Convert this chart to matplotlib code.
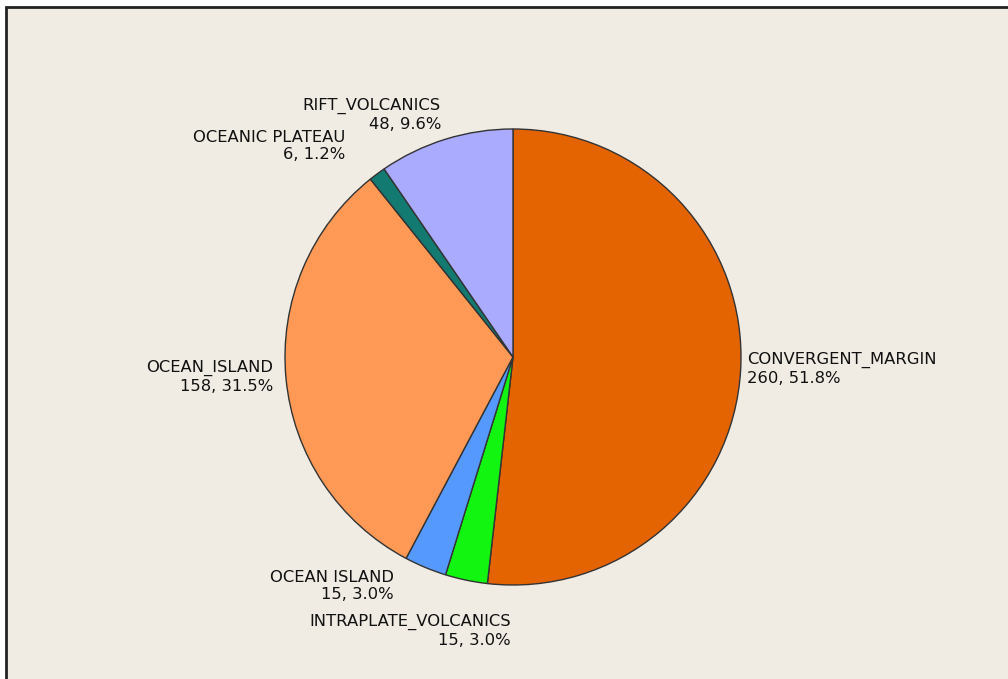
import matplotlib.pyplot as plt
from matplotlib.patches import Rectangle

# Data
categories = ['CONVERGENT_MARGIN', 'INTRAPLATE_VOLCANICS', 'OCEAN ISLAND',
              'OCEAN_ISLAND', 'OCEANIC PLATEAU', 'RIFT_VOLCANICS']
counts = [260, 15, 15, 158, 6, 48]
colors = ['#E36400', '#11F511', '#5599FF', '#FF9955', '#137A72', '#AAAAFF']

# Label layout (pixel coords of the anchor point, alignment)
label_pos = [(747, 369, 'left'), (511, 631, 'right'), (394, 586, 'right'),
             (273, 377, 'right'), (345, 146, 'right'), (441, 115, 'right')]

W, H = 1008, 679
fig = plt.figure(figsize=(W / 100, H / 100), dpi=100, facecolor='white')
ax = fig.add_axes([0, 0, 1, 1])
ax.set_xlim(0, W)
ax.set_ylim(0, H)
ax.set_aspect('equal')
ax.axis('off')

# Panel background with frame
ax.add_patch(Rectangle((6, -20), W + 50, H - 7 + 20, facecolor='#F0ECE4',
                       edgecolor='#222222', linewidth=2, zorder=0))

ax.pie(counts, colors=colors, startangle=90, counterclock=False,
       center=(513, H - 357), radius=228,
       wedgeprops=dict(edgecolor='#333333', linewidth=1))
ax.set_xlim(0, W)
ax.set_ylim(0, H)

total = sum(counts)
for cat, n, (x, y, ha) in zip(categories, counts, label_pos):
    ax.text(x, H - y, f'{cat}\n{n}, {100 * n / total:.1f}%', ha=ha, va='center',
            multialignment=ha, fontsize=11.8, color='#111111', linespacing=1.2)

fig.savefig('out.png', dpi=100)
